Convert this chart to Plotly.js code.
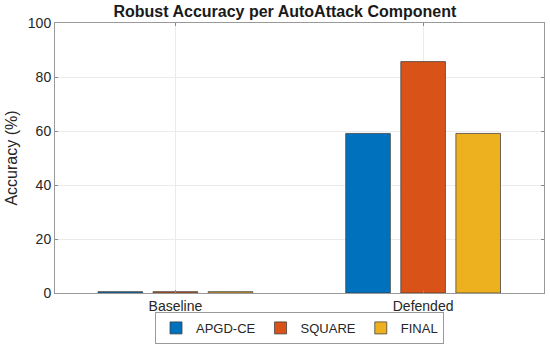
<!DOCTYPE html>
<html>
<head>
<meta charset="utf-8">
<script src="https://cdn.plot.ly/plotly-3.0.1.min.js"></script>
<style>html,body{margin:0;padding:0;background:#fff;}#chart{width:550px;height:345px;}</style>
</head>
<body>
<div id="chart"></div>
<script>
const categories = ["Baseline", "Defended"];
const seriesNames = ["APGD-CE", "SQUARE", "FINAL"];
const apgdValues = [0.5, 59.1];
const squareValues = [0.5, 85.7];
const finalValues = [0.5, 59.1];
const colors = ["#0072BD", "#D95319", "#EDB120"];
const yTicks = [0, 20, 40, 60, 80, 100];

const allValues = [apgdValues, squareValues, finalValues];
const traces = seriesNames.map((name, i) => ({
  type: "bar",
  name: name,
  x: [0, 1],
  y: allValues[i],
  marker: { color: colors[i], line: { color: "rgba(60,60,60,0.75)", width: 1 } },
  hoverinfo: "skip"
}));

const font = "Liberation Sans, Arial, Helvetica, sans-serif";
const layout = {
  width: 550, height: 345,
  margin: { l: 55, r: 6, t: 23, b: 52, autoexpand: false },
  paper_bgcolor: "#fff", plot_bgcolor: "#fff",
  barmode: "group",
  bargap: 0.333,
  bargroupgap: 0.19,
  font: { family: font, size: 14, color: "#262626" },
  title: {
    text: "<b>Robust Accuracy per AutoAttack Component</b>",
    font: { family: font, size: 16, color: "#1a1a1a" },
    x: 0.518, xanchor: "center", y: 0.967, yanchor: "middle"
  },
  xaxis: {
    range: [-0.486, 1.488],
    tickmode: "array", tickvals: [0, 1], ticktext: categories,
    ticks: "inside", ticklen: 3, tickcolor: "#888",
    showgrid: true, gridcolor: "#ebebeb",
    showline: true, linecolor: "#999", linewidth: 1, mirror: "ticks",
    zeroline: false,
    tickfont: { family: font, size: 14, color: "#262626" }
  },
  yaxis: {
    range: [0, 100],
    tickmode: "array", tickvals: yTicks,
    ticks: "inside", ticklen: 3, tickcolor: "#888",
    showgrid: true, gridcolor: "#ebebeb",
    showline: true, linecolor: "#999", linewidth: 1, mirror: "ticks",
    zeroline: false,
    tickfont: { family: font, size: 14, color: "#262626" },
    title: { text: "Accuracy (%)", font: { family: font, size: 16, color: "#262626" }, standoff: 6 }
  },
  showlegend: true,
  legend: {
    orientation: "h", x: 0.5, xanchor: "center",
    yref: "container", y: 0.003, yanchor: "bottom",
    bordercolor: "#999", borderwidth: 1, bgcolor: "rgba(255,255,255,0)",
    font: { family: font, size: 13, color: "#262626" },
    itemwidth: 30, tracegroupgap: 0
  }
};

Plotly.newPlot("chart", traces, layout, { staticPlot: true, displayModeBar: false });
</script>
</body>
</html>
